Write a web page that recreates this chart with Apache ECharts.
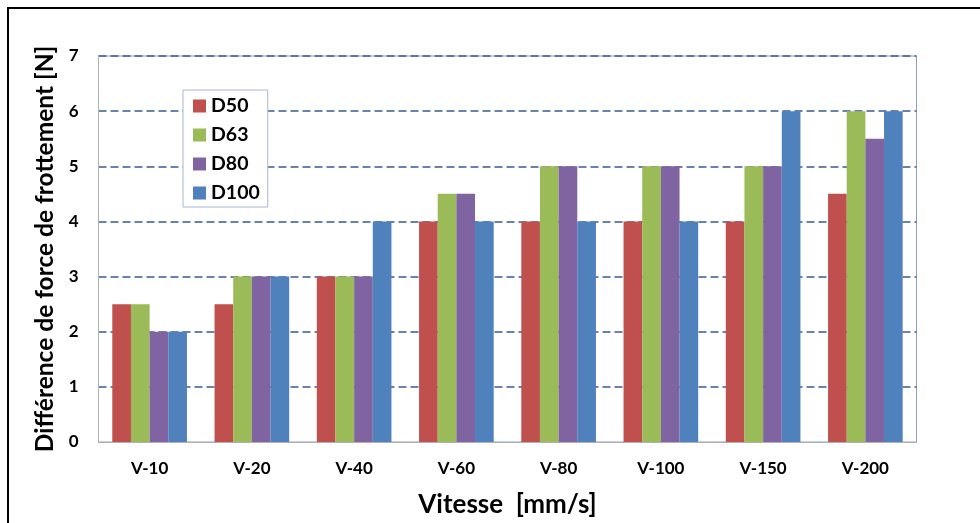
<!DOCTYPE html>
<html>
<head>
<meta charset="utf-8">
<script src="https://cdn.jsdelivr.net/npm/echarts@6/dist/echarts.min.js"></script>
<style>
html,body{margin:0;padding:0;background:#fff;}
#chart{width:980px;height:523px;}
</style>
</head>
<body>
<div id="chart"></div>
<script>
const categories = ['V-10','V-20','V-40','V-60','V-80','V-100','V-150','V-200'];
const seriesNames = ['D50','D63','D80','D100'];
const d50  = [2.5, 2.5, 3, 4, 4, 4, 4, 4.5];
const d63  = [2.5, 3, 3, 4.5, 5, 5, 5, 6];
const d80  = [2, 3, 3, 4.5, 5, 5, 5, 5.5];
const d100 = [2, 3, 4, 4, 4, 4, 6, 6];
const colors = ['#C0504D','#9BBB59','#8064A2','#4F81BD'];
const yTicks = [0,1,2,3,4,5,6,7];

const FONT = 'Lato';
const chart = echarts.init(document.getElementById('chart'));
const allData = [d50, d63, d80, d100];
chart.setOption({
  animation: false,
  backgroundColor: '#fff',
  textStyle: {fontFamily: FONT},
  graphic: [{
    type: 'rect', z: 100, silent: true,
    shape: {x: 8, y: 8, width: 1100, height: 700},
    style: {fill: 'none', stroke: '#000', lineWidth: 2}
  }],
  grid: {
    left: 98.5, right: 63.5, top: 56, bottom: 80,
    show: true, borderColor: '#8EA0C4', borderWidth: 1, backgroundColor: '#fff'
  },
  legend: {
    orient: 'vertical',
    left: 183, top: 90,
    data: seriesNames,
    itemWidth: 13, itemHeight: 13, itemGap: 9,
    icon: 'rect',
    padding: [6, 8, 4, 10],
    backgroundColor: '#fff',
    borderColor: '#A7B6D2', borderWidth: 1,
    textStyle: {fontFamily: FONT, fontWeight: 'bold', fontSize: 19.5, color: '#000'}
  },
  xAxis: {
    type: 'category',
    data: categories,
    name: 'Vitesse  [mm/s]',
    nameLocation: 'middle',
    nameGap: 50,
    nameTextStyle: {fontFamily: FONT, fontWeight: 'bold', fontSize: 26, color: '#000'},
    axisLine: {lineStyle: {color: '#B0B0B0', width: 1}},
    axisTick: {show: false},
    axisLabel: {fontFamily: FONT, fontWeight: 'bold', fontSize: 17, color: '#000', margin: 18}
  },
  yAxis: {
    type: 'value',
    min: 0, max: 7, interval: 1,
    name: 'Différence de force de frottement [N]',
    nameLocation: 'middle',
    nameGap: 41,
    nameTextStyle: {fontFamily: FONT, fontWeight: 'bold', fontSize: 24.5, color: '#000'},
    axisLine: {show: true, lineStyle: {color: '#B0B0B0', width: 1}},
    axisTick: {show: false},
    axisLabel: {fontFamily: FONT, fontWeight: 'bold', fontSize: 17, color: '#000', margin: 20,
      formatter: v => yTicks.includes(v) ? String(v) : ''},
    splitLine: {show: true, showMinLine: false, lineStyle: {color: '#3A5A94', width: 1.5, type: [8, 4]}}
  },
  series: seriesNames.map((n, i) => ({
    name: n,
    type: 'bar',
    data: allData[i],
    barGap: '0%',
    barCategoryGap: '27%',
    itemStyle: {color: colors[i]}
  }))
});
</script>
</body>
</html>
